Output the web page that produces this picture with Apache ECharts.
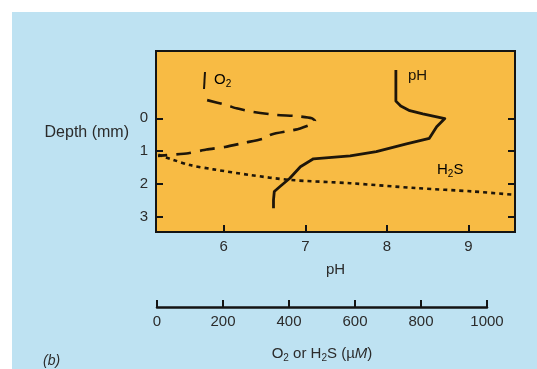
<!DOCTYPE html>
<html>
<head>
<meta charset="utf-8">
<script src="https://cdn.jsdelivr.net/npm/echarts@6/dist/echarts.min.js"></script>
<style>
  html, body { margin: 0; padding: 0; background: #ffffff; }
  #bg { position: absolute; left: 12px; top: 12px; width: 525px; height: 357px; background: #bee2f2; }
  #chart { position: absolute; left: 0; top: 0; width: 537px; height: 369px; }
</style>
</head>
<body>
<div id="bg"></div>
<div id="chart"></div>
<script>
// ---- data ----
const phTicks = [6, 7, 8, 9];
const depthTicks = [0, 1, 2, 3];
const concTicks = [0, 200, 400, 600, 800, 1000];

// pH profile
const phValues = [8.11, 8.11, 8.17, 8.28, 8.44, 8.71, 8.61, 8.52, 8.24, 7.87, 7.55, 7.10, 6.94, 6.81, 6.69, 6.62, 6.61, 6.61];
const phDepth  = [-1.46, -0.52, -0.37, -0.23, -0.13, 0.01, 0.26, 0.61, 0.78, 1.01, 1.14, 1.23, 1.47, 1.82, 2.07, 2.22, 2.48, 2.73];

// O2 profile (µM)
const o2Values = [153, 212, 242, 288, 364, 419, 470, 480, 474, 435, 404, 348, 322, 268, 207, 151, 96, 4];
const o2Depth  = [-0.55, -0.40, -0.30, -0.20, -0.10, -0.07, 0.00, 0.08, 0.16, 0.31, 0.38, 0.49, 0.62, 0.74, 0.87, 0.95, 1.06, 1.14];

// H2S profile (µM)
const h2sValues = [5, 50, 101, 172, 283, 404, 586, 788, 959, 1081];
const h2sDepth  = [1.11, 1.26, 1.42, 1.55, 1.72, 1.87, 1.97, 2.12, 2.22, 2.32];

const pairs = (xs, ys) => xs.map((x, i) => [x, ys[i]]);

const FONT = "'Liberation Sans', Arial, Helvetica, sans-serif";
const TXT = '#2b2b2b';
const INK = '#1e160a';

const richSub = (color) => ({
  n: { fontSize: 15, lineHeight: 18, color: color, fontFamily: FONT },
  s: { fontSize: 10, lineHeight: 10, verticalAlign: 'bottom', color: color, fontFamily: FONT },
  i: { fontSize: 15, lineHeight: 18, fontStyle: 'italic', color: color, fontFamily: FONT }
});

const chart = echarts.init(document.getElementById('chart'), null, { renderer: 'canvas' });

const option = {
  backgroundColor: 'transparent',
  animation: false,
  textStyle: { fontFamily: FONT },
  grid: [
    { left: 156, top: 51, width: 359, height: 181, show: true, backgroundColor: '#f8bb44', borderColor: '#141414', borderWidth: 2, containLabel: false },
    { left: 157, top: 306, width: 330, height: 1, show: false, containLabel: false }
  ],
  xAxis: [
    {
      type: 'value', gridIndex: 0, min: 5.17, max: 9.57, position: 'bottom',
      name: 'pH', nameLocation: 'middle', nameGap: 30,
      nameTextStyle: { fontSize: 15, color: TXT, fontFamily: FONT },
      axisLine: { show: false, onZero: false },
      axisTick: { show: true, inside: true, length: 7, lineStyle: { color: '#141414', width: 2 }, customValues: phTicks },
      axisLabel: { show: true, margin: 7, fontSize: 15, color: TXT, fontFamily: FONT, customValues: phTicks },
      splitLine: { show: false }
    },
    {
      type: 'value', gridIndex: 0, min: -2, max: 1086, show: false,
      axisLine: { onZero: false },
      splitLine: { show: false }
    },
    {
      type: 'value', gridIndex: 1, min: 0, max: 1000, interval: 200, position: 'bottom',
      name: '{n|O}{s|2}{n| or H}{s|2}{n|S (µ}{i|M}{n|)}', nameLocation: 'middle', nameGap: 38,
      nameTextStyle: { fontSize: 15, color: TXT, fontFamily: FONT, rich: richSub(TXT) },
      axisLine: { show: true, onZero: false, lineStyle: { color: '#141414', width: 2.5 } },
      axisTick: { show: true, inside: true, length: 7, lineStyle: { color: '#141414', width: 2 } },
      axisLabel: { margin: 7, fontSize: 15, color: TXT, fontFamily: FONT, formatter: (v) => String(v) },
      splitLine: { show: false }
    }
  ],
  yAxis: [
    {
      type: 'value', gridIndex: 0, min: -2.04, max: 3.45, inverse: true, position: 'left',
      axisLine: { show: false, onZero: false },
      axisTick: { show: true, inside: true, length: 7, lineStyle: { color: '#141414', width: 2 }, customValues: depthTicks },
      axisLabel: { show: true, margin: 8, fontSize: 15, color: TXT, fontFamily: FONT, customValues: depthTicks },
      splitLine: { show: false }
    },
    {
      type: 'value', gridIndex: 0, min: -2.04, max: 3.45, inverse: true, position: 'right',
      axisLine: { show: false, onZero: false },
      axisTick: { show: true, inside: true, length: 7, lineStyle: { color: '#141414', width: 2 }, customValues: depthTicks },
      axisLabel: { show: false },
      splitLine: { show: false }
    },
    { type: 'value', gridIndex: 1, show: false, min: 0, max: 1 }
  ],
  series: [
    {
      name: 'pH', type: 'line', xAxisIndex: 0, yAxisIndex: 0,
      data: pairs(phValues, phDepth), showSymbol: false, symbol: 'none',
      lineStyle: { color: INK, width: 2.8, join: 'round' }, z: 5
    },
    {
      name: 'O2', type: 'line', xAxisIndex: 1, yAxisIndex: 0,
      data: pairs(o2Values, o2Depth), showSymbol: false, symbol: 'none', smooth: 0.2,
      lineStyle: { color: INK, width: 2.6, type: [15, 9] }, z: 5
    },
    {
      name: 'H2S', type: 'line', xAxisIndex: 1, yAxisIndex: 0,
      data: pairs(h2sValues, h2sDepth), showSymbol: false, symbol: 'none', smooth: 0.3,
      lineStyle: { color: INK, width: 2.6, type: [4, 4] }, z: 5
    }
  ],
  graphic: [
    { type: 'text', x: 129, y: 133, z: 10,
      style: { text: 'Depth (mm)', fill: TXT, font: '16px ' + FONT, align: 'right', verticalAlign: 'middle' } },
    { type: 'line', z: 10, shape: { x1: 205, y1: 72, x2: 204, y2: 89 }, style: { stroke: INK, lineWidth: 2 } },
    { type: 'text', x: 214, y: 80, z: 10,
      style: { text: '{n|O}{s|2}', rich: richSub(INK), align: 'left', verticalAlign: 'middle' } },
    { type: 'text', x: 408, y: 76, z: 10,
      style: { text: 'pH', fill: INK, font: '15px ' + FONT, align: 'left', verticalAlign: 'middle' } },
    { type: 'text', x: 437, y: 170, z: 10,
      style: { text: '{n|H}{s|2}{n|S}', rich: richSub(INK), align: 'left', verticalAlign: 'middle' } },
    { type: 'text', x: 43, y: 361, z: 10,
      style: { text: '(b)', fill: TXT, font: 'italic 14px ' + FONT, align: 'left', verticalAlign: 'middle' } }
  ]
};

chart.setOption(option);
</script>
</body>
</html>
